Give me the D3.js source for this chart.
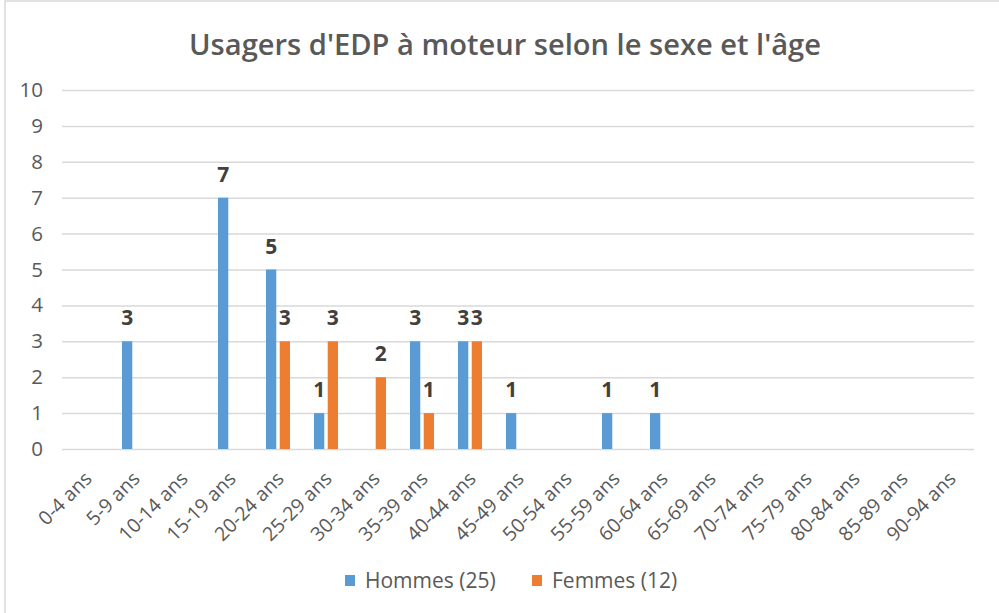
<!DOCTYPE html>
<html>
<head>
<meta charset="utf-8">
<script src="https://cdn.jsdelivr.net/npm/d3@7"></script>
<style>
body { margin: 0; background: #fff; }
svg { display: block; }
</style>
</head>
<body>
<svg id="chart" width="999" height="613"></svg>
<script>
var Categories = ["0-4 ans", "5-9 ans", "10-14 ans", "15-19 ans", "20-24 ans", "25-29 ans",
	"30-34 ans", "35-39 ans", "40-44 ans", "45-49 ans", "50-54 ans", "55-59 ans", "60-64 ans",
	"65-69 ans", "70-74 ans", "75-79 ans", "80-84 ans", "85-89 ans", "90-94 ans"];
var Hommes = [0, 3, 0, 7, 5, 1, 0, 3, 3, 1, 0, 1, 1, 0, 0, 0, 0, 0, 0];
var Femmes = [0, 0, 0, 0, 3, 3, 2, 1, 3, 0, 0, 0, 0, 0, 0, 0, 0, 0, 0];
var SeriesNames = ["Hommes (25)", "Femmes (12)"];
var SeriesColors = ["#5B9BD5", "#ED7D31"];
var YTicks = [0, 1, 2, 3, 4, 5, 6, 7, 8, 9, 10];
var Title = "Usagers d'EDP à moteur selon le sexe et l'âge";

var Font = "'Open Sans', 'DejaVu Sans', sans-serif";
var svg = d3.select("#chart");

// chart border
svg.append("rect")
	.attr("x", 5).attr("y", 1)
	.attr("width", 1010).attr("height", 640)
	.attr("fill", "#fff")
	.attr("stroke", "#D9D9D9")
	.attr("stroke-width", 1.5);

var Plot = {left: 62, right: 974, top: 90, bottom: 449};

var x0 = d3.scaleBand().domain(Categories).range([Plot.left, Plot.right]);
var x1 = d3.scaleBand().domain([0, 1]).range([0, 24]).paddingInner(0.25);
var y = d3.scaleLinear().domain([0, 10]).range([Plot.bottom, Plot.top]);

// title
svg.append("text")
	.attr("x", 505).attr("y", 55)
	.attr("text-anchor", "middle")
	.style("font-family", Font)
	.style("font-size", "29px")
	.style("font-weight", 600)
	.attr("fill", "#595959")
	.attr("textLength", 632)
	.attr("lengthAdjust", "spacingAndGlyphs")
	.text(Title);

// gridlines + y labels
var yAxis = d3.axisLeft(y).tickValues(YTicks).tickSize(-(Plot.right - Plot.left)).tickPadding(19);
var gy = svg.append("g").attr("transform", "translate(" + Plot.left + ",0)").call(yAxis);
gy.select(".domain").remove();
gy.selectAll(".tick line").attr("stroke", "#D9D9D9").attr("stroke-width", 1.5);
gy.selectAll(".tick text")
	.style("font-family", Font).style("font-size", "20.5px").attr("fill", "#595959");

// x labels
var xAxis = d3.axisBottom(x0).tickSize(0).tickPadding(0);
var gx = svg.append("g").attr("transform", "translate(0," + Plot.bottom + ")").call(xAxis);
gx.select(".domain").remove();
gx.selectAll(".tick text")
	.style("font-family", Font).style("font-size", "19.5px").attr("fill", "#595959")
	.attr("text-anchor", "end")
	.attr("dy", 0)
	.attr("transform", "translate(7,31) rotate(-45)");

var Series = [Hommes, Femmes];
var groups = svg.selectAll("g.series")
	.data(Series)
	.enter().append("g")
	.attr("class", "series");

groups.each(function(values, s)
	{
		var g = d3.select(this);
		var offset = (x0.bandwidth() - 24) / 2 + x1(s);
		var nonzero = values.map(function(v, i){ return {v: v, c: Categories[i]}; })
			.filter(function(d){ return d.v > 0; });

		g.selectAll("rect")
			.data(nonzero)
			.enter().append("rect")
			.attr("x", function(d){ return x0(d.c) + offset; })
			.attr("y", function(d){ return y(d.v); })
			.attr("width", x1.bandwidth())
			.attr("height", function(d){ return y(0) - y(d.v); })
			.attr("fill", SeriesColors[s]);

		g.selectAll("text")
			.data(nonzero)
			.enter().append("text")
			.attr("x", function(d){ return x0(d.c) + offset + x1.bandwidth() / 2; })
			.attr("y", function(d){ return y(d.v) - 16; })
			.attr("text-anchor", "middle")
			.style("font-family", Font)
			.style("font-size", "21px")
			.style("font-weight", "bold")
			.attr("fill", "#404040")
			.text(function(d){ return d.v; });
	}
);

// legend
var LegendPos = [345, 532];
var legend = svg.selectAll("g.legend")
	.data(SeriesNames)
	.enter().append("g")
	.attr("class", "legend")
	.attr("transform", function(d, i){ return "translate(" + LegendPos[i] + ",575)"; });

legend.append("rect")
	.attr("width", 10).attr("height", 11)
	.attr("fill", function(d, i){ return SeriesColors[i]; });

legend.append("text")
	.attr("x", 20).attr("y", 13)
	.style("font-family", Font)
	.style("font-size", "21px")
	.attr("fill", "#595959")
	.text(function(d){ return d; });
</script>
</body>
</html>
